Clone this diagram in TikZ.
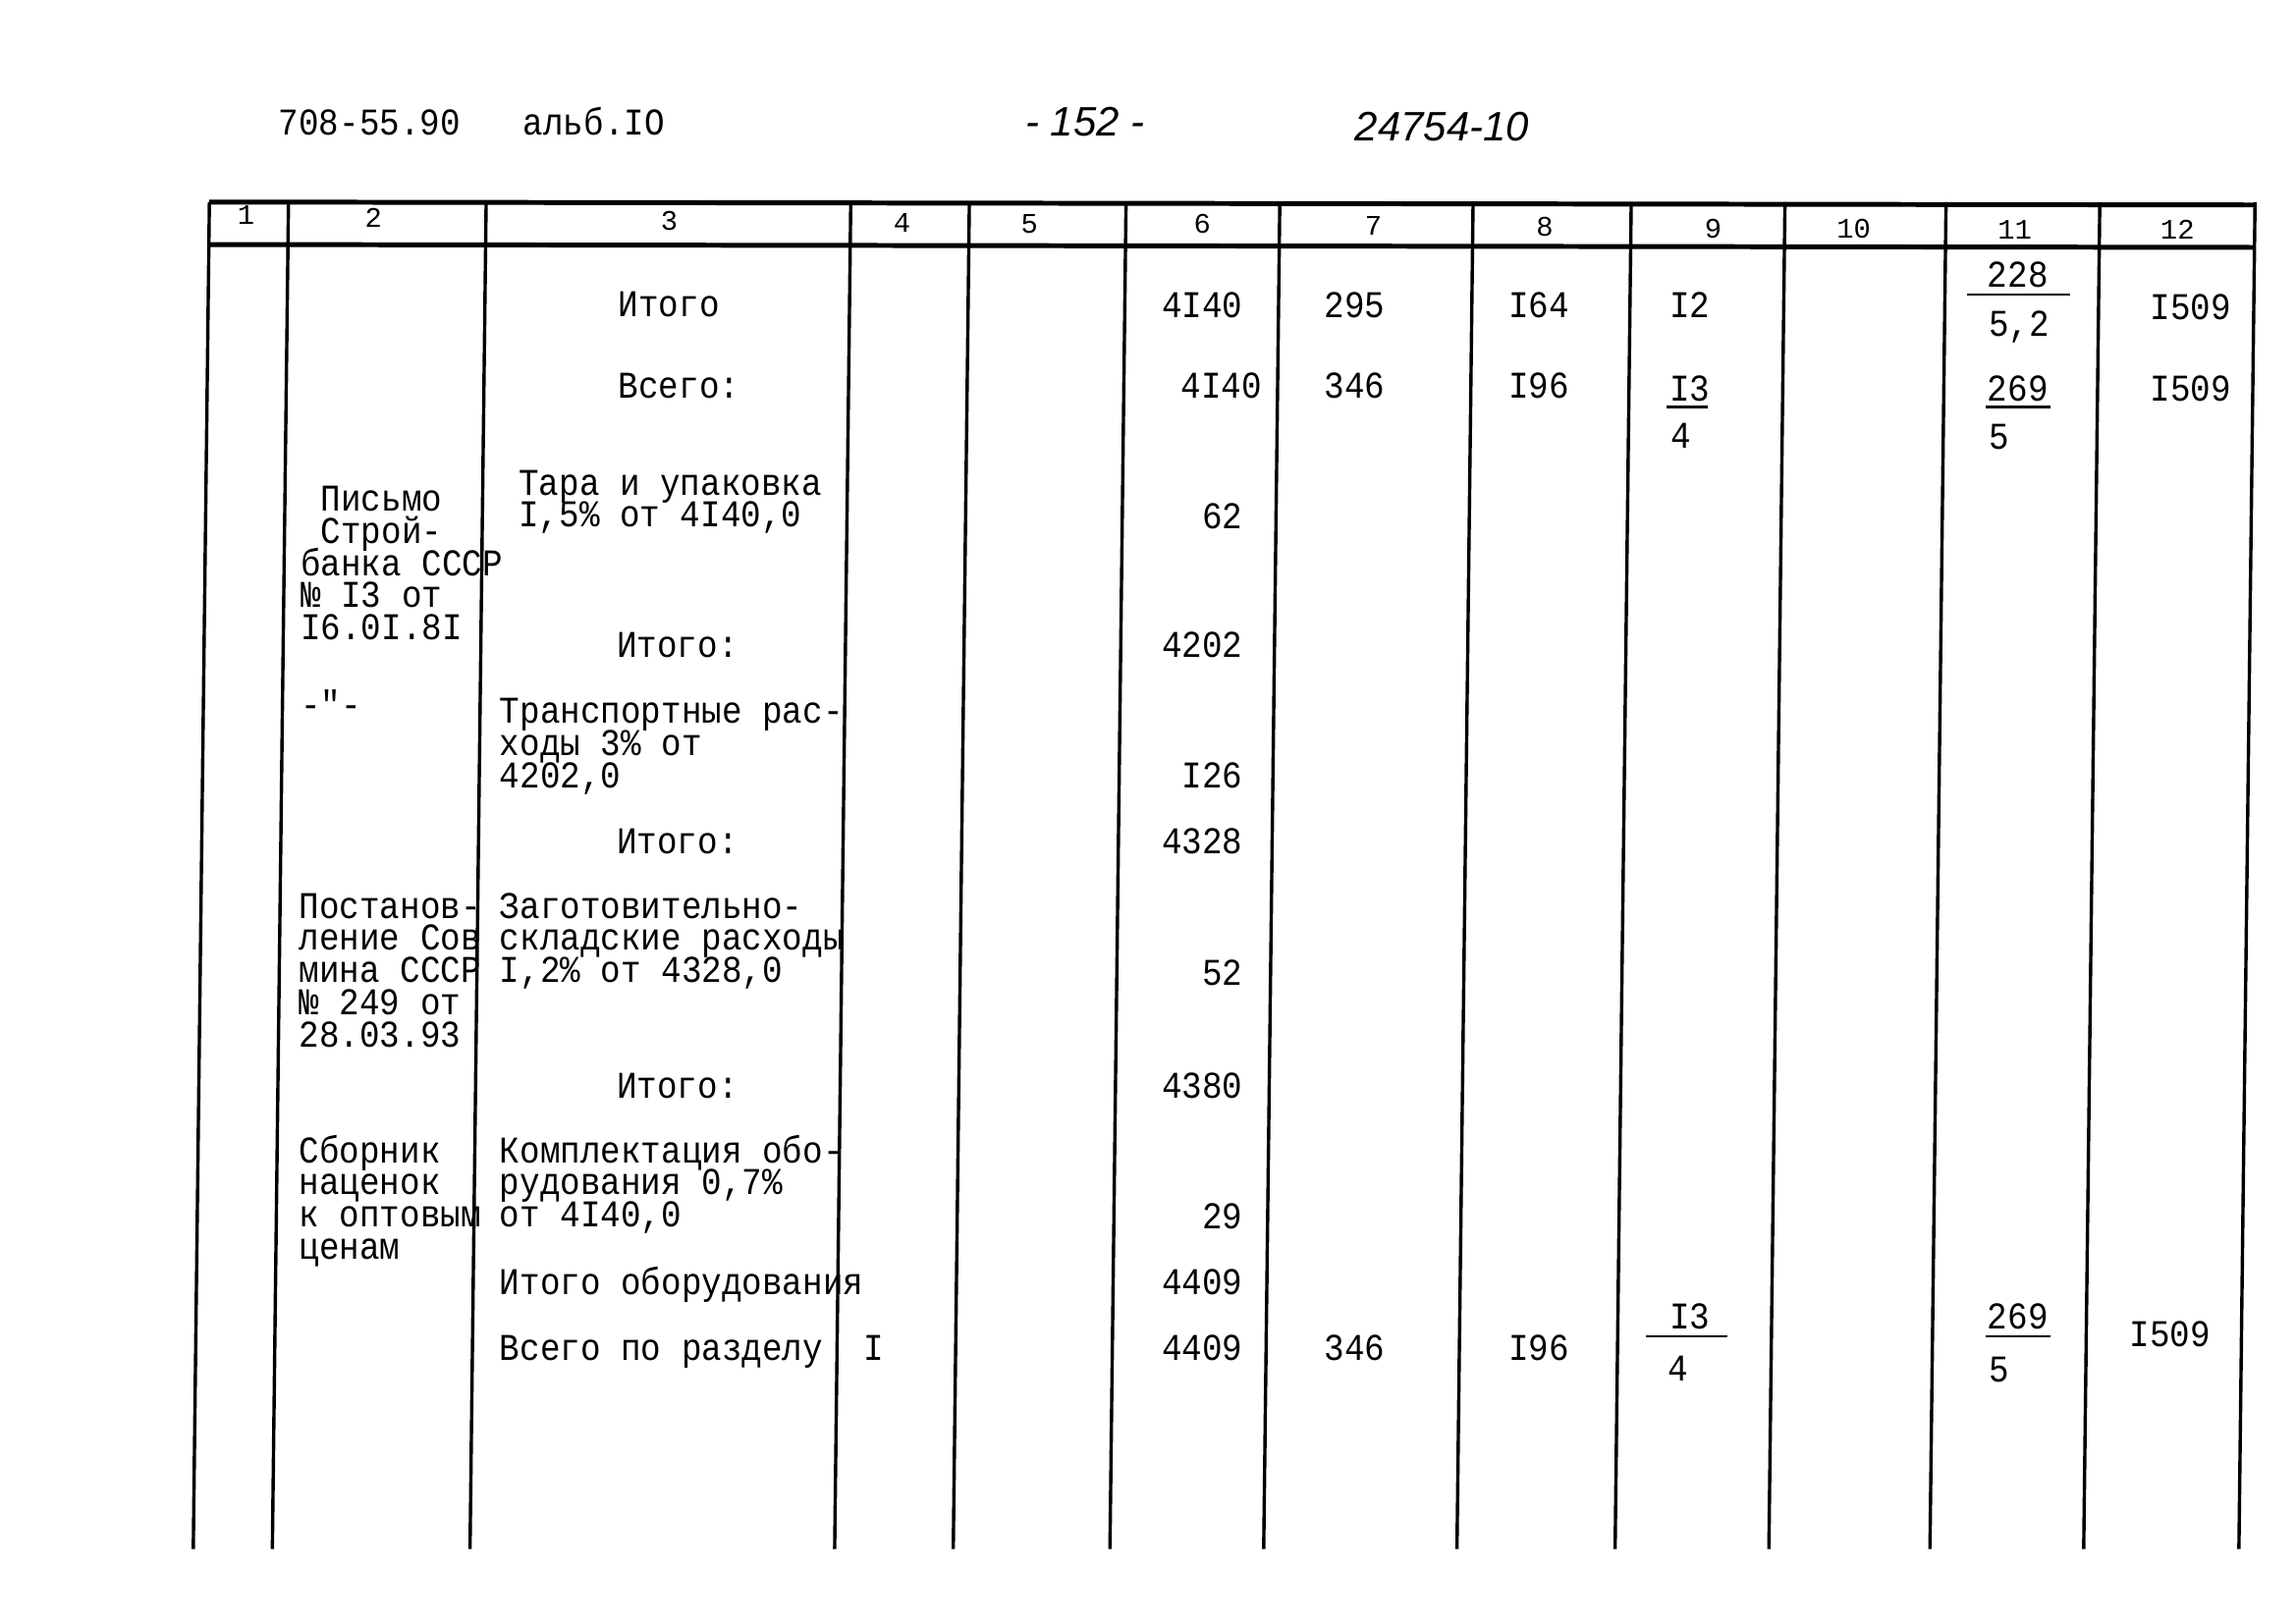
\documentclass[tikz,border=0pt]{standalone}
\usepackage{fontspec}
\newfontfamily\tw[FakeStretch=0.89]{Liberation Mono}
\newfontfamily\twhead{Liberation Mono}
\newfontfamily\hand{Liberation Sans}
\newcommand\twbody{\tw\fontsize{14.7pt}{12.5pt}\selectfont\lineskiplimit=-50pt\relax}

\begin{document}
\begin{tikzpicture}[x=0.02cm, y=-0.02cm,
  txt/.style={anchor=base west, inner sep=0pt, align=left, font=\twbody},
  num/.style={anchor=base east, inner sep=0pt, font=\twbody},
  colno/.style={inner sep=0pt, font=\twhead\fontsize{11pt}{12pt}\selectfont},
  handtxt/.style={inner sep=0pt, font=\hand\itshape\fontsize{16pt}{18pt}\selectfont},
  rule/.style={line width=1.3pt},
  boldrule/.style={line width=1.9pt},
  bar/.style={line width=0.8pt}]
\useasboundingbox (0,0) rectangle (1568,1109);

% page heading
\node[txt] (code) at (190,92) {708-55.90};
\node[txt] (album) at (357,92) {альб.IO};
\node[handtxt, anchor=base] (page) at (741,93) {- 152 -};
\node[handtxt, anchor=base west] (order) at (925,96) {24754-10};

% table frame
\draw[boldrule] (143,138) -- (1540,140);
\draw[boldrule] (143,167) -- (1540,169);
\foreach \x in {143,197,332,581,662,769,874,1006,1114,1219,1329,1434,1540}
  \draw[rule] (\x,138) -- (\x-11,1058);

% column numbers
\foreach \x/\y [count=\i] in {168/147,255/149,457/151,616/152,703/153,821/153,
    938/154,1055/155,1170/156,1266/156,1376/157,1487/157}
  \node[colno] (h\i) at (\x,\y) {\i};

% totals carried over
\node[txt] (itogo1) at (422,216) {Итого};
\node[num] (c6a) at (849,217) {4I40};
\node[txt] (c7a) at (904,217) {295};
\node[txt] (c8a) at (1030,217) {I64};
\node[txt] (c9a) at (1140,217) {I2};
\node[txt] (c11a) at (1357,196) {228};
\node[txt] (c11b) at (1358,230) {5,2};
\node[txt] (c12a) at (1468,218) {I509};
\node[txt] (vsego) at (422,272) {Всего:};
\node[num] (c6b) at (862,272) {4I40};
\node[txt] (c7b) at (904,272) {346};
\node[txt] (c8b) at (1030,272) {I96};
\node[txt] (c9b) at (1140,274) {I3};
\node[txt] (c9c) at (1141,306) {4};
\node[txt] (c11c) at (1357,274) {269};
\node[txt] (c11d) at (1358,307) {5};
\node[txt] (c12b) at (1468,274) {I509};
\draw[bar] (1343,201) -- (1414,201);
\draw[bar] (1138,278) -- (1166,278);
\draw[bar] (1356,278) -- (1400,278);

% surcharges (multi-line nodes sit on their last baseline)
\node[txt] (src1) at (205,437) {\hphantom{П}Письмо\\\hphantom{П}Строй-\\банка СССР\\№ I3 от\\I6.0I.8I};
\node[txt] (tara) at (354,360) {Тара и упаковка\\I,5\% от 4I40,0};
\node[num] (c6c) at (849,361) {62};
\node[txt] (itogo2) at (421,449) {Итого:};
\node[num] (c6d) at (849,449) {4202};
\node[txt] (ditto) at (205,490) {-"-};
\node[txt] (trans) at (341,538) {Транспортные рас-\\ходы 3\% от\\4202,0};
\node[num] (c6e) at (849,538) {I26};
\node[txt] (itogo3) at (421,583) {Итого:};
\node[num] (c6f) at (849,583) {4328};
\node[txt] (src2) at (204,715) {Постанов-\\ление Сов\\мина СССР\\№ 249 от\\28.03.93};
\node[txt] (zag) at (341,671) {Заготовительно-\\складские расходы\\I,2\% от 4328,0};
\node[num] (c6g) at (849,673) {52};
\node[txt] (itogo4) at (421,750) {Итого:};
\node[num] (c6h) at (849,750) {4380};
\node[txt] (src3) at (204,860) {Сборник\\наценок\\к оптовым\\ценам};
\node[txt] (kompl) at (341,838) {Комплектация обо-\\рудования 0,7\%\\от 4I40,0};
\node[num] (c6i) at (849,839) {29};
\node[txt] (itogo5) at (341,884) {Итого оборудования};
\node[num] (c6j) at (849,884) {4409};

% section total
\node[txt] (total) at (341,929) {Всего по разделу~~I};
\node[num] (c6k) at (849,929) {4409};
\node[txt] (c7c) at (904,929) {346};
\node[txt] (c8c) at (1030,929) {I96};
\node[txt] (c9d) at (1140,908) {I3};
\node[txt] (c9e) at (1139,943) {4};
\node[txt] (c11e) at (1357,908) {269};
\node[txt] (c11f) at (1358,944) {5};
\node[txt] (c12c) at (1454,920) {I509};
\draw[bar] (1124,913) -- (1180,913);
\draw[bar] (1356,913) -- (1400,913);
\end{tikzpicture}
\end{document}
